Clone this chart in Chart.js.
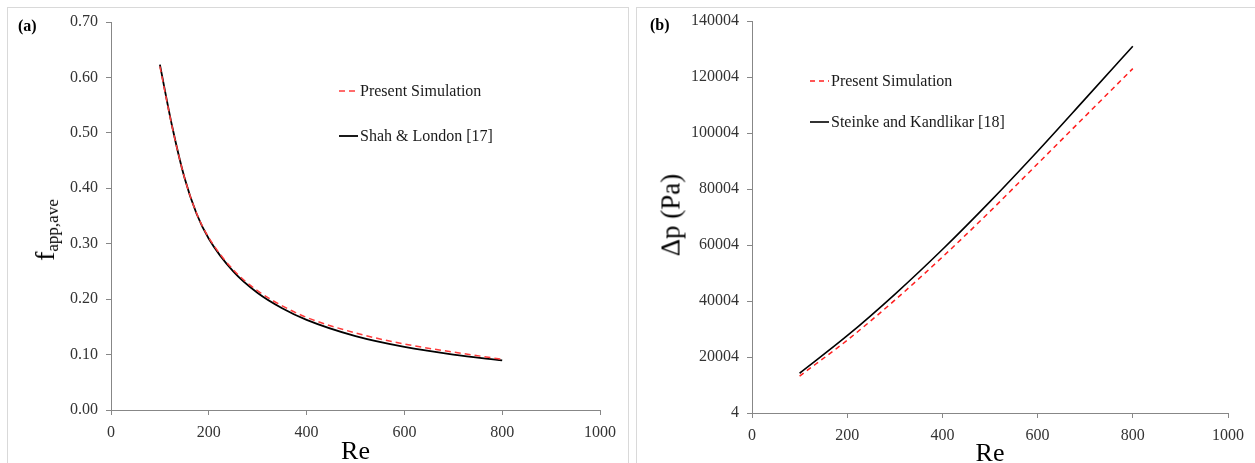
<!DOCTYPE html>
<html>
<head>
<meta charset="utf-8">
<script src="https://cdn.jsdelivr.net/npm/chart.js@4.4.1/dist/chart.umd.min.js"></script>
<style>
  body { margin: 0; background: #fff; width: 1255px; height: 463px; overflow: hidden; position: relative; }
  .panel { position: absolute; border: 1px solid #d9d9d9; box-sizing: border-box; }
  canvas { position: absolute; top: 0; }
  .ytitle { position: absolute; white-space: nowrap; line-height: 1; color: #000;
            font-family: "Liberation Serif", "Times New Roman", serif;
            transform: translate(-50%, -50%) rotate(-90deg); }
  .ytitle sub { font-size: 17px; vertical-align: -4px; }
</style>
</head>
<body>
<div class="panel" style="left:7px;top:7px;width:622px;height:470px"></div>
<div class="panel" style="left:636px;top:7px;width:630px;height:470px"></div>
<canvas id="chartA" width="632" height="463" style="left:0"></canvas>
<canvas id="chartB" width="623" height="463" style="left:632px"></canvas>
<div class="ytitle" style="left:46px;top:230px;font-size:28px">f<sub>app,ave</sub></div>
<div class="ytitle" style="left:671px;top:215px;font-size:27px">&Delta;p (Pa)</div>
<script>
// ---- data ----
const reA = [100, 125, 150, 175, 200, 250, 300, 350, 400, 500, 600, 700, 800];
const fPresent = [0.620, 0.511, 0.420, 0.355, 0.311, 0.253, 0.215, 0.188, 0.167, 0.139, 0.119, 0.1045, 0.0915];
const fShahLondon = [0.623, 0.512, 0.420, 0.354, 0.309, 0.250, 0.211, 0.1835, 0.1625, 0.1332, 0.1138, 0.1000, 0.0894];

const reB = [100, 200, 300, 400, 500, 600, 700, 800];
const dpPresent = [13200, 26000, 40300, 55700, 72000, 89000, 106000, 123000];
const dpSteinke = [14200, 27600, 42400, 58400, 75500, 93500, 112200, 131000];

const reTicks = [0, 200, 400, 600, 800, 1000];
const fTicks = [0, 0.1, 0.2, 0.3, 0.4, 0.5, 0.6, 0.7];
const dpTicks = [4, 20004, 40004, 60004, 80004, 100004, 120004, 140004];

const SERIF = '"Liberation Serif", "Times New Roman", serif';
const AXIS_GREY = '#878787';
const TICK_TEXT = '#333';

// draws panel tag, x title and the legend at fixed spots
const panelText = {
  id: 'panelText',
  afterDraw(chart, args, opts) {
    const ctx = chart.ctx;
    const area = chart.chartArea;
    ctx.save();
    ctx.fillStyle = '#000';
    ctx.textAlign = 'left';
    ctx.textBaseline = 'alphabetic';
    ctx.font = 'bold 16px ' + SERIF;
    ctx.fillText(opts.tag, opts.tagX, opts.tagY);

    ctx.font = '26px ' + SERIF;
    ctx.textAlign = 'center';
    ctx.fillText(opts.xTitle, (area.left + area.right) / 2, opts.xTitleY);

    // legend
    const lg = opts.legend;
    ctx.font = '16px ' + SERIF;
    ctx.textAlign = 'left';
    ctx.textBaseline = 'middle';
    chart.data.datasets.forEach((ds, i) => {
      const y = lg.y[i];
      ctx.save();
      ctx.strokeStyle = ds.borderColor;
      ctx.lineWidth = ds.borderWidth;
      ctx.setLineDash(ds.borderDash || []);
      ctx.beginPath();
      ctx.moveTo(lg.x, y);
      ctx.lineTo(lg.x + lg.len, y);
      ctx.stroke();
      ctx.restore();
      ctx.fillStyle = '#1a1a1a';
      ctx.fillText(ds.label, lg.x + lg.len + 2, y + 1);
    });
    ctx.restore();
  }
};

function axisOpts(min, max, tickList, fmt, fixed) {
  return {
    type: 'linear',
    min: min,
    max: max,
    afterBuildTicks: axis => { axis.ticks = tickList.map(v => ({ value: v })); },
    afterFit: fixed,
    border: { display: true, color: AXIS_GREY, width: 1 },
    grid: { drawOnChartArea: false, drawTicks: true, tickLength: 5, color: AXIS_GREY },
    ticks: { color: TICK_TEXT, padding: 8, font: { family: SERIF, size: 16 }, callback: fmt, autoSkip: false, maxRotation: 0 }
  };
}

function buildChart(id, xs, series, yRange, yTicks, yFmt, geo, text) {
  const datasets = series.map(s => ({
    label: s.label,
    data: xs.map((x, i) => ({ x: x, y: s.values[i] })),
    borderColor: s.color,
    borderWidth: s.width,
    borderDash: s.dash,
    pointRadius: 0,
    fill: false,
    cubicInterpolationMode: 'monotone'
  }));
  return new Chart(document.getElementById(id), {
    type: 'line',
    data: { datasets: datasets },
    plugins: [panelText],
    options: {
      responsive: false,
      animation: false,
      events: [],
      layout: { padding: { left: 0, right: geo.right, top: geo.top, bottom: 0 } },
      scales: {
        x: axisOpts(0, 1000, reTicks, v => String(v), a => { a.height = geo.xHeight; }),
        y: axisOpts(yRange[0], yRange[1], yTicks, yFmt, a => { a.width = geo.yWidth; })
      },
      plugins: {
        legend: { display: false },
        tooltip: { enabled: false },
        panelText: text
      }
    }
  });
}

buildChart('chartA', reA, [
  { label: 'Present Simulation', values: fPresent, color: '#ff3b3b', width: 1.5, dash: [6, 4] },
  { label: 'Shah & London [17]', values: fShahLondon, color: '#000', width: 1.8, dash: [] }
], [0, 0.7], fTicks, v => v.toFixed(2),
  { yWidth: 111, right: 32, top: 22, xHeight: 53 },
  {
    tag: '(a)', tagX: 18, tagY: 31,
    xTitle: 'Re', xTitleY: 459,
    legend: { x: 339, len: 19, y: [91, 136] }
  });

buildChart('chartB', reB, [
  { label: 'Present Simulation', values: dpPresent, color: '#ff1f1f', width: 1.5, dash: [5, 4] },
  { label: 'Steinke and Kandlikar [18]', values: dpSteinke, color: '#000', width: 1.6, dash: [] }
], [4, 140004], dpTicks, v => String(v),
  { yWidth: 120, right: 27, top: 21, xHeight: 50 },
  {
    tag: '(b)', tagX: 18, tagY: 30,
    xTitle: 'Re', xTitleY: 461,
    legend: { x: 178, len: 19, y: [81, 122] }
  });
</script>
</body>
</html>
